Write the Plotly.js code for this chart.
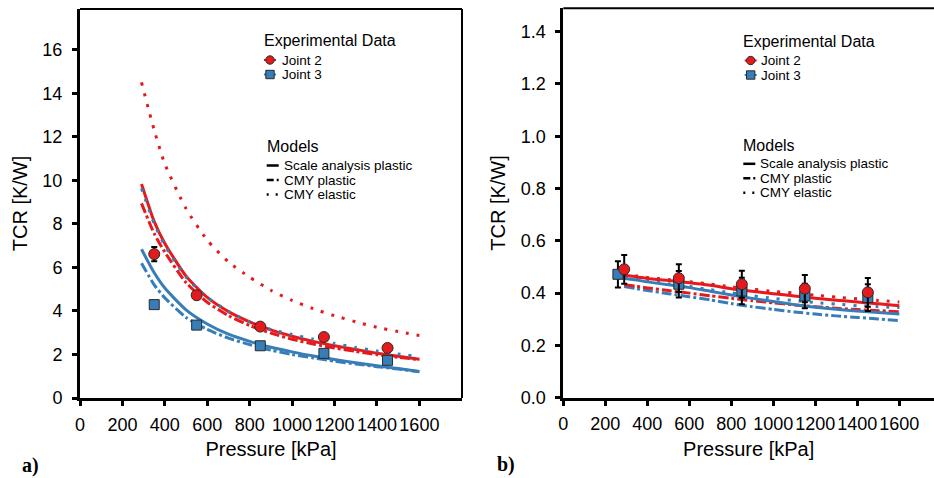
<!DOCTYPE html>
<html>
<head>
<meta charset="utf-8">
<script src="https://cdn.plot.ly/plotly-3.0.1.min.js"></script>
<style>html,body{margin:0;padding:0;background:#fff;}#chart{width:934px;height:478px;}</style>
</head>
<body>
<div id="chart"></div>
<script>
// ---------- DATA ----------
const pressureTicks = [0, 200, 400, 600, 800, 1000, 1200, 1400, 1600];
const modelPressure = [290, 350, 400, 500, 600, 700, 800, 900, 1000, 1100, 1200, 1300, 1400, 1500, 1600];

// Panel a)
const aJoint2X = [350, 550, 850, 1150, 1450];
const aJoint2Y = [6.61, 4.72, 3.28, 2.80, 2.30];
const aJoint2Err = [0.33, 0.10, 0.08, 0.08, 0.06];
const aJoint3X = [350, 550, 850, 1150, 1450];
const aJoint3Y = [4.29, 3.35, 2.40, 2.05, 1.73];
const aJoint3Err = [0.10, 0.08, 0.06, 0.05, 0.05];

const aJ2ScalePlastic = [9.83, 8.10, 7.10, 5.60, 4.62, 3.97, 3.50, 3.13, 2.84, 2.60, 2.40, 2.23, 2.06, 1.92, 1.78];
const aJ2CmyPlastic   = [8.94, 7.55, 6.70, 5.30, 4.40, 3.78, 3.33, 2.98, 2.70, 2.48, 2.30, 2.14, 1.99, 1.87, 1.76];
const aJ2CmyElastic   = [14.50, 12.30, 10.75, 8.70, 7.25, 6.25, 5.55, 4.95, 4.48, 4.10, 3.78, 3.50, 3.25, 3.05, 2.87];
const aJ3ScalePlastic = [6.83, 5.75, 5.05, 4.05, 3.40, 2.93, 2.60, 2.33, 2.12, 1.93, 1.77, 1.62, 1.48, 1.35, 1.22];
const aJ3CmyPlastic   = [6.19, 5.20, 4.60, 3.70, 3.15, 2.75, 2.45, 2.20, 2.00, 1.84, 1.69, 1.56, 1.44, 1.33, 1.21];
const aJ3CmyElastic   = [9.63, 8.00, 7.00, 5.55, 4.62, 3.98, 3.50, 3.15, 2.92, 2.70, 2.50, 2.32, 2.16, 2.02, 1.90];

// Panel b)
const bJoint2X = [290, 550, 850, 1150, 1450];
const bJoint2Y = [0.491, 0.457, 0.434, 0.417, 0.403];
const bJoint2Err = [0.055, 0.053, 0.052, 0.052, 0.055];
const bJoint3X = [260, 550, 850, 1150, 1450];
const bJoint3Y = [0.472, 0.434, 0.408, 0.389, 0.383];
const bJoint3Err = [0.050, 0.051, 0.051, 0.047, 0.051];

const bJ2ScalePlastic = [0.468, 0.462, 0.456, 0.448, 0.440, 0.430, 0.417, 0.407, 0.398, 0.389, 0.380, 0.373, 0.366, 0.359, 0.352];
const bJ2CmyPlastic   = [0.432, 0.426, 0.420, 0.410, 0.400, 0.390, 0.380, 0.371, 0.363, 0.355, 0.348, 0.342, 0.337, 0.333, 0.329];
const bJ2CmyElastic   = [0.472, 0.466, 0.460, 0.452, 0.444, 0.435, 0.424, 0.415, 0.407, 0.400, 0.392, 0.385, 0.378, 0.372, 0.366];
const bJ3ScalePlastic = [0.457, 0.450, 0.443, 0.432, 0.421, 0.407, 0.393, 0.380, 0.368, 0.356, 0.346, 0.338, 0.332, 0.326, 0.320];
const bJ3CmyPlastic   = [0.425, 0.417, 0.410, 0.398, 0.386, 0.374, 0.360, 0.348, 0.338, 0.328, 0.320, 0.313, 0.307, 0.301, 0.295];
const bJ3CmyElastic   = [0.460, 0.453, 0.447, 0.436, 0.426, 0.413, 0.401, 0.390, 0.380, 0.371, 0.364, 0.358, 0.352, 0.348, 0.345];

const legendExpTitle = "Experimental Data";
const legendExpNames = ["Joint 2", "Joint 3"];
const legendModelTitle = "Models";
const legendModelNames = ["Scale analysis plastic", "CMY plastic", "CMY elastic"];
const panelLabels = ["a)", "b)"];
const xTitle = "Pressure [kPa]";
const yTitle = "TCR [K/W]";

// ---------- STYLE ----------
const RED = "#e41a1c", BLUE = "#377eb8", EDGE = "#2a2a2a";
const FONT = "Liberation Sans, Arial, sans-serif";
const DASH = {solid: "solid", plastic: "10px,3px,3px,3px", elastic: "3px,8px"};
const W = 934, H = 478;
const ITEM_FONT = 13.5, ITEM_GAP = 14.5;
const px = v => v / W, py = v => 1 - v / H;

function modelTrace(y, color, dash, xa, ya) {
  return {x: modelPressure, y: y, type: "scatter", mode: "lines", xaxis: xa, yaxis: ya,
    line: {color: color, width: 3, dash: dash, shape: "spline", smoothing: 0.6}, showlegend: false, hoverinfo: "skip"};
}
function dataTrace(x, y, err, color, symbol, size, xa, ya) {
  return {x: x, y: y, type: "scatter", mode: "markers", xaxis: xa, yaxis: ya,
    error_y: {type: "data", array: err, visible: true, color: "#000", thickness: 2, width: 3},
    marker: {color: color, symbol: symbol, size: size, line: {color: EDGE, width: 1}}, showlegend: false};
}

const traces = [
  modelTrace(aJ3ScalePlastic, BLUE, DASH.solid, "x", "y"),
  modelTrace(aJ3CmyPlastic, BLUE, DASH.plastic, "x", "y"),
  modelTrace(aJ2CmyPlastic, RED, DASH.plastic, "x", "y"),
  modelTrace(aJ2ScalePlastic, RED, DASH.solid, "x", "y"),
  modelTrace(aJ2CmyElastic, RED, DASH.elastic, "x", "y"),
  modelTrace(aJ3CmyElastic, BLUE, DASH.elastic, "x", "y"),
  dataTrace(aJoint3X, aJoint3Y, aJoint3Err, BLUE, "square", 10, "x", "y"),
  dataTrace(aJoint2X, aJoint2Y, aJoint2Err, RED, "circle", 11, "x", "y"),

  modelTrace(bJ3CmyPlastic, BLUE, DASH.plastic, "x2", "y2"),
  modelTrace(bJ2CmyPlastic, RED, DASH.plastic, "x2", "y2"),
  modelTrace(bJ3ScalePlastic, BLUE, DASH.solid, "x2", "y2"),
  modelTrace(bJ3CmyElastic, BLUE, DASH.elastic, "x2", "y2"),
  modelTrace(bJ2ScalePlastic, RED, DASH.solid, "x2", "y2"),
  modelTrace(bJ2CmyElastic, RED, DASH.elastic, "x2", "y2"),
  dataTrace(bJoint3X, bJoint3Y, bJoint3Err, BLUE, "square", 10, "x2", "y2"),
  dataTrace(bJoint2X, bJoint2Y, bJoint2Err, RED, "circle", 11, "x2", "y2")
];

function xAxis(domain, range, anchor) {
  return {domain: domain, range: range, anchor: anchor, tickvals: pressureTicks, tickangle: 0, ticks: "outside",
    ticklen: 5, tickwidth: 3, tickcolor: "#000", showline: true, linewidth: 3, linecolor: "#000",
    showgrid: false, zeroline: false, tickfont: {family: FONT, size: 18, color: "#000"},
    ticklabelstandoff: 3,
    title: {text: xTitle, font: {family: FONT, size: 20, color: "#000"}, standoff: 9}};
}
function yAxis(domain, range, anchor, tickvals, fmt) {
  return {domain: domain, range: range, anchor: anchor, tickvals: tickvals, tickformat: fmt, ticks: "outside",
    ticklen: 5, tickwidth: 3, tickcolor: "#000", showline: true, linewidth: 3, linecolor: "#000",
    showgrid: false, zeroline: false, tickfont: {family: FONT, size: 18, color: "#000"},
    ticklabelstandoff: 6,
    title: {text: yTitle, font: {family: FONT, size: 20, color: "#000"}, standoff: 10}};
}

const annotations = [];
const shapes = [];
function txt(text, x, y, size, extra) {
  annotations.push(Object.assign({text: text, x: px(x), y: py(y), xref: "paper", yref: "paper",
    xanchor: "left", yanchor: "middle", showarrow: false, borderpad: 0,
    font: {family: FONT, size: size, color: "#000"}}, extra || {}));
}
function legendBlock(L) {
  txt(legendExpTitle, L.expX - 1, L.expY, 16);
  const cols = [RED, BLUE], types = ["circle", "rect"];
  legendExpNames.forEach((n, i) => {
    const yy = L.jY + i * ITEM_GAP;
    shapes.push({type: "line", xref: "paper", yref: "paper", x0: px(L.mX - 6), x1: px(L.mX + 6), y0: py(yy), y1: py(yy), line: {color: cols[i], width: 2}});
    shapes.push({type: types[i], xref: "paper", yref: "paper", xsizemode: "pixel", ysizemode: "pixel",
      xanchor: px(L.mX), yanchor: py(yy), x0: -4.2, x1: 4.2, y0: -4.2, y1: 4.2,
      fillcolor: cols[i], line: {color: EDGE, width: 1}});
    txt(n, L.jX - 1, yy, ITEM_FONT);
  });
  txt(legendModelTitle, L.modX - 1, L.modY, 16);
  const dashes = ["solid", "7px,3px,2px,3px", "2px,7px"];
  legendModelNames.forEach((n, i) => {
    const yy = L.lY + i * ITEM_GAP;
    shapes.push({type: "line", xref: "paper", yref: "paper", x0: px(L.lX), x1: px(L.lX + 12), y0: py(yy), y1: py(yy),
      line: {color: "#000", width: 2.5, dash: dashes[i]}});
    txt(n, L.tX - 1, yy, ITEM_FONT);
  });
}
legendBlock({expX: 263.5, expY: 41, mX: 270, jX: 281.7, jY: 60, modX: 266.7, modY: 146.7, lX: 266.7, lY: 165.5, tX: 284});
legendBlock({expX: 743.3, expY: 41.7, mX: 750.7, jX: 761, jY: 60.5, modX: 742.7, modY: 145, lX: 743.3, lY: 163.8, tX: 760});

const labelFont = {family: "Liberation Serif, Times New Roman, serif", size: 20, color: "#000", weight: "bold"};
txt(panelLabels[0], 21, 465, 20, {font: labelFont});
txt(panelLabels[1], 496, 464, 20, {font: labelFont});

// frame lines (top and right)
shapes.push({type: "line", xref: "x domain", yref: "y domain", x0: 0, x1: 1, y0: 1, y1: 1, line: {color: "#000", width: 2}});
shapes.push({type: "line", xref: "x domain", yref: "y domain", x0: 1, x1: 1, y0: 0, y1: 1, line: {color: "#000", width: 2}});
shapes.push({type: "line", xref: "x2 domain", yref: "y2 domain", x0: 0, x1: 1, y0: 1, y1: 1, line: {color: "#000", width: 2}});

const layout = {
  width: W, height: H, margin: {l: 0, r: 0, t: 0, b: 0}, paper_bgcolor: "#fff", plot_bgcolor: "#fff",
  showlegend: false, font: {family: FONT},
  xaxis: xAxis([80 / W, 462 / W], [0, 1801], "y"),
  yaxis: yAxis([1 - 398 / H, 1 - 9 / H], [0, 17.87], "x", [0, 2, 4, 6, 8, 10, 12, 14, 16], "d"),
  xaxis2: xAxis([563.3 / W, 1], [0, 1765], "y2"),
  yaxis2: yAxis([1 - 397.7 / H, 1 - 8.3 / H], [0, 1.4895], "x2", [0, 0.2, 0.4, 0.6, 0.8, 1.0, 1.2, 1.4], ".1f"),
  annotations: annotations, shapes: shapes
};
Plotly.newPlot("chart", traces, layout, {staticPlot: true, displayModeBar: false});
</script>
</body>
</html>
